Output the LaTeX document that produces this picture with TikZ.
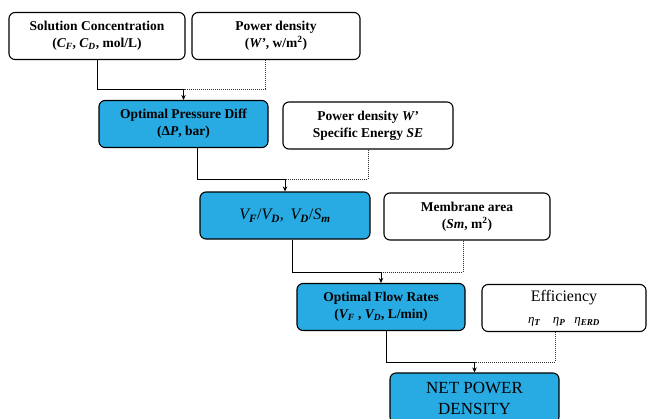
\documentclass[tikz,border=0pt]{standalone}
\usepackage{fontspec}
\setmainfont{Liberation Serif}
\usepackage{xcolor}
\usepackage{tikz}
\usetikzlibrary{arrows.meta}

\definecolor{boxblue}{RGB}{40,170,226}

\begin{document}
\begin{tikzpicture}[x=1pt,y=-1pt,
		box/.style={draw,line width=1.1pt,rounded corners=6pt,align=center,
			inner sep=1pt,font=\fontsize{13.5}{17}\selectfont\bfseries},
		stage/.style={box,fill=boxblue},
		feed/.style={line width=1pt},
		side/.style={line width=1pt,densely dotted,black!80},
		arr/.style={feed,-{Stealth[length=5pt,width=4.5pt]}}]
		\useasboundingbox (0,0) rectangle (647,418);
		\clip (0,0) rectangle (647,418);
		\def\bh{47pt}
		% input boxes
		\node[box,minimum width=176pt,minimum height=\bh] (conc) at (97,36)
			{Solution Concentration\\(\textit{C\textsubscript{F}}, \textit{C\textsubscript{D}}, mol/L)};
		\node[box,minimum width=168pt,minimum height=\bh] (dens) at (276,36)
			{Power density\\(\textit{W’}, w/m\textsuperscript{2})};
		\node[stage,minimum width=169pt,minimum height=\bh] (press) at (183.5,124)
			{Optimal Pressure Diff\\(\textup{Δ}\textit{P}, bar)};
		\node[box,minimum width=170pt,minimum height=\bh] (energy) at (368,125.5)
			{Power density \textit{W’}\\Specific Energy \textit{SE}};
		\node[stage,minimum width=170pt,minimum height=\bh,font=\fontsize{16}{19}\selectfont] (ratio) at (285,215.5)
			{\textit{V\textsubscript{\textbf{F}}}/\textit{V\textsubscript{\textbf{D}}},\,
			 \textit{V\textsubscript{\textbf{D}}}/\textit{S\textsubscript{\textbf{m}}}};
		\node[box,minimum width=166pt,minimum height=\bh] (area) at (467,216.5)
			{Membrane area\\(\textit{Sm}, m\textsuperscript{2})};
		\node[stage,minimum width=168pt,minimum height=\bh] (flow) at (381,307)
			{Optimal Flow Rates\\(\textit{V\textsubscript{F}} , \textit{V\textsubscript{D}}, L/min)};
		\node[box,minimum width=164pt,minimum height=\bh,font=\fontsize{16}{22}\selectfont] (eff) at (564,308)
			{Efficiency\\{\fontsize{13}{15}\selectfont\textit{η\textsubscript{\textbf{T}}}\hspace{9pt}
			 \textit{η\textsubscript{\textbf{P}}}\hspace{9pt}\textit{η\textsubscript{\textbf{ERD}}}}};
		\node[stage,minimum width=169pt,minimum height=50pt,font=\fontsize{17}{21}\selectfont] (net) at (474.5,398)
			{NET POWER\\DENSITY};
		% junctions
		\coordinate (j1) at (183.5,89);
		\coordinate (j2) at (285,179);
		\coordinate (j3) at (381,272);
		\coordinate (j4) at (474.5,362);
		% connectors
		\draw[feed] (conc.south) |- (j1);
		\draw[side] ([xshift=-11pt]dens.south) |- (j1);
		\draw[arr] (j1) -- (press.north);
		\draw[feed] ([xshift=13.5pt]press.south) |- (j2);
		\draw[side] (energy.south) |- (j2);
		\draw[arr] (j2) -- (ratio.north);
		\draw[feed] ([xshift=7pt]ratio.south) |- (j3);
		\draw[side] ([xshift=-4pt]area.south) |- (j3);
		\draw[arr] (j3) -- (flow.north);
		\draw[feed] ([xshift=5pt]flow.south) |- (j4);
		\draw[side] ([xshift=-9pt]eff.south) |- (j4);
		\draw[arr] (j4) -- (net.north);
	\end{tikzpicture}
\end{document}
